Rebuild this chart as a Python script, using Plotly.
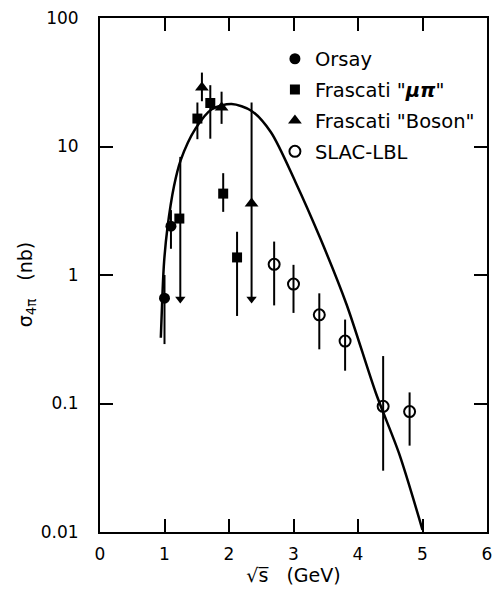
import plotly.graph_objects as go

# ---- data ----
# model curve
curve_x = [0.943, 0.968, 0.994, 1.045, 1.147, 1.25, 1.478, 1.733, 2.04, 2.345, 2.65, 3.03, 3.415, 3.823, 4.281, 4.638, 5.0]
curve_y = [0.325, 0.705, 1.27, 2.31, 4.9, 7.8, 13.7, 19.5, 21.4, 19.0, 12.9, 5.3, 1.93, 0.59, 0.119, 0.0407, 0.0104]

# Orsay
orsay_x = [1.00, 1.10]
orsay_y = [0.66, 2.4]
orsay_hi = [1.0, 3.2]
orsay_lo = [0.29, 1.6]

# Frascati "mu pi"
fmp_x = [1.23, 1.51, 1.71, 1.91, 2.125]
fmp_y = [2.75, 16.5, 21.8, 4.3, 1.37]
fmp_hi = [2.75, 22.0, 30.0, 6.2, 2.17]
fmp_lo = [2.75, 11.4, 11.5, 3.1, 0.48]

# Frascati "Boson"
fb_x = [1.58, 1.885, 2.35]
fb_y = [28.8, 20.1, 3.6]
fb_hi = [37.6, 26.7, 3.6]
fb_lo = [22.5, 15.0, 3.6]

# SLAC-LBL
slac_x = [2.70, 3.00, 3.40, 3.80, 4.39, 4.80]
slac_y = [1.21, 0.85, 0.49, 0.306, 0.095, 0.0865]
slac_hi = [1.82, 1.20, 0.72, 0.45, 0.234, 0.122]
slac_lo = [0.58, 0.507, 0.264, 0.18, 0.030, 0.047]

# upper-limit arrows
arrow_x = [1.245, 2.35]
arrow_top = [8.3, 22.0]
arrow_tip = [0.65, 0.65]

x_ticks = [0, 1, 2, 3, 4, 5, 6]
y_ticks = [0.01, 0.1, 1, 10, 100]
y_ticktext = ["0.01", "0.1", "1", "10", "100"]

FONT = "DejaVu Sans"


def errs(y, hi, lo):
    return ([h - v for v, h in zip(y, hi)], [v - l for v, l in zip(y, lo)])


fig = go.Figure()

# curve
fig.add_trace(go.Scatter(x=curve_x, y=curve_y, mode="lines",
                         line=dict(color="black", width=2.5, shape="spline", smoothing=0.8),
                         showlegend=False, hoverinfo="skip"))

# upper-limit arrows
for ax, at, tip in zip(arrow_x, arrow_top, arrow_tip):
    fig.add_trace(go.Scatter(x=[ax, ax], y=[at, tip], mode="lines",
                             line=dict(color="black", width=2),
                             showlegend=False, hoverinfo="skip"))
fig.add_trace(go.Scatter(x=arrow_x, y=arrow_tip, mode="markers",
                         marker=dict(symbol="triangle-down", size=9, color="black",
                                     line=dict(width=0)),
                         showlegend=False, hoverinfo="skip"))

eb = dict(type="data", symmetric=False, width=0, thickness=2, color="black")

p, m = errs(orsay_y, orsay_hi, orsay_lo)
fig.add_trace(go.Scatter(x=orsay_x, y=orsay_y, mode="markers", name="Orsay", legendgroup="a",
                         marker=dict(symbol="circle", size=11, color="black"),
                         error_y=dict(eb, array=p, arrayminus=m)))

p, m = errs(fmp_y, fmp_hi, fmp_lo)
fig.add_trace(go.Scatter(x=fmp_x, y=fmp_y, mode="markers", name='Frascati "<i><b>μπ</b></i>"',
                         legendgroup="b",
                         marker=dict(symbol="square", size=10, color="black"),
                         error_y=dict(eb, array=p, arrayminus=m)))

p, m = errs(fb_y, fb_hi, fb_lo)
fig.add_trace(go.Scatter(x=fb_x, y=fb_y, mode="markers", name='Frascati "Boson"', legendgroup="c",
                         marker=dict(symbol="triangle-up", size=12, color="black"),
                         error_y=dict(eb, array=p, arrayminus=m)))

p, m = errs(slac_y, slac_hi, slac_lo)
fig.add_trace(go.Scatter(x=slac_x, y=slac_y, mode="markers", name="SLAC-LBL", legendgroup="d",
                         marker=dict(symbol="circle-open", size=11, color="black",
                                     line=dict(width=2, color="black")),
                         error_y=dict(eb, array=p, arrayminus=m)))

fig.update_layout(
    width=500, height=601,
    margin=dict(l=100, r=8, t=15, b=69),
    paper_bgcolor="white", plot_bgcolor="white",
    font=dict(family=FONT, color="black", size=17),
    showlegend=True,
    legend=dict(x=0.452, y=0.958, xanchor="left", yanchor="top",
                bgcolor="rgba(0,0,0,0)", borderwidth=0,
                font=dict(family=FONT, size=19.5, color="black"),
                tracegroupgap=2.5, itemsizing="trace"),
    xaxis=dict(range=[0, 6], tickvals=x_ticks, ticks="inside", ticklen=13, tickwidth=2,
               tickcolor="black", showline=True, linewidth=2, linecolor="black",
               mirror="ticks", showgrid=False, zeroline=False,
               tickfont=dict(size=17), ticklabelstandoff=6,
               title=dict(text="√s\u0305   (GeV)", font=dict(size=19), standoff=2)),
    yaxis=dict(type="log", range=[-2, 2], tickvals=y_ticks, ticktext=y_ticktext,
               ticks="inside", ticklen=13, tickwidth=2, tickcolor="black",
               showline=True, linewidth=2, linecolor="black", mirror="ticks",
               showgrid=False, zeroline=False, tickfont=dict(size=17),
               ticklabelstandoff=16),
    annotations=[dict(text="σ<sub>4π</sub>   (nb)", textangle=-90, xref="paper", yref="paper",
                      x=-0.191, y=0.482, xanchor="center", yanchor="middle", showarrow=False,
                      font=dict(size=19, family=FONT))],
)

fig.write_html("out.html", config={"displayModeBar": False},
               post_script="document.body.style.margin='0';document.body.style.overflow='hidden';")
